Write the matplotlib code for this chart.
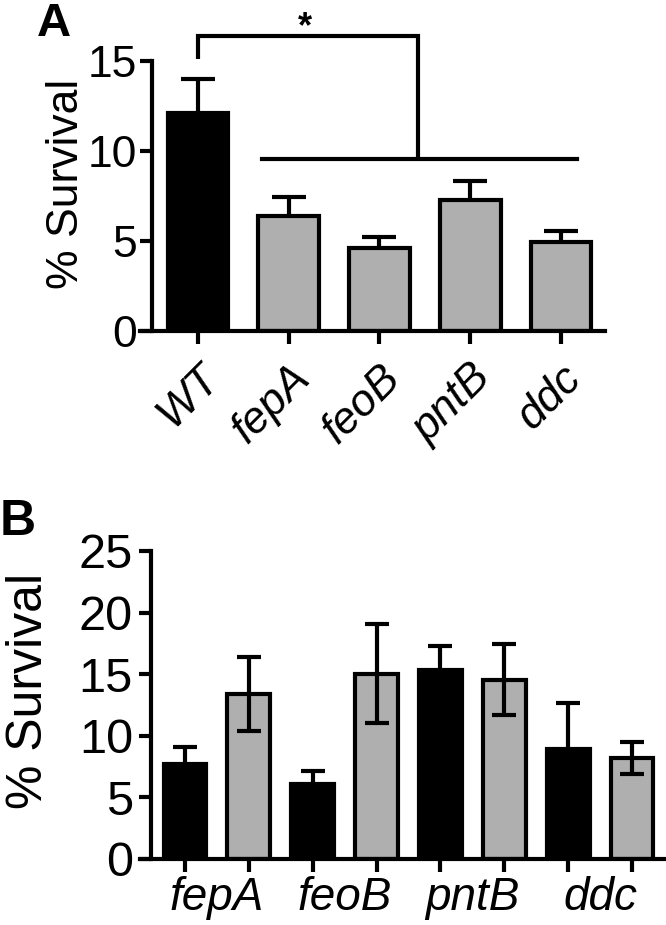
import matplotlib
matplotlib.use("Agg")
import matplotlib.pyplot as plt

plt.rcParams['font.family'] = ['Liberation Sans', 'DejaVu Sans']

# panel A data
strainsA = ["WT", "fepA", "feoB", "pntB", "ddc"]
survA = [12.1, 6.4, 4.6, 7.3, 4.95]
semA = [1.9, 1.05, 0.62, 1.03, 0.6]
colorsA = ["black", "#afafaf", "#afafaf", "#afafaf", "#afafaf"]

# panel B data (black / grey pairs per gene)
genesB = ["fepA", "feoB", "pntB", "ddc"]
survB_black = [7.7, 6.05, 15.35, 8.9]
semB_black = [1.42, 1.1, 1.95, 3.72]
survB_grey = [13.4, 15.05, 14.55, 8.2]
semB_grey = [3.0, 4.0, 2.86, 1.29]

lw = 3

fig = plt.figure(figsize=(6.66, 9.25), dpi=100)

# ---------------- panel A
ax = fig.add_axes([0.2102, 0.6422, 0.6982, 0.2919])
xa = list(range(len(strainsA)))
ax.bar(xa, survA, width=0.67, color=colorsA, edgecolor="black", linewidth=lw, zorder=2)
ax.errorbar(xa, survA, yerr=semA, fmt="none", ecolor="black", elinewidth=lw,
            capsize=12, capthick=lw, zorder=1)
ax.set_xlim(-0.639, 4.485)
ax.set_ylim(0, 15)
ax.set_yticks([0, 5, 10, 15])
ax.set_xticks(xa)
ax.set_xticklabels(strainsA, rotation=45, ha="right", rotation_mode="anchor",
                   style="italic", fontsize=32)
ax.spines["left"].set_position(("data", -0.507))
for s in ["top", "right"]:
    ax.spines[s].set_visible(False)
for s in ["left", "bottom"]:
    ax.spines[s].set_linewidth(lw)
ax.tick_params(axis="both", width=lw, length=9)
ax.tick_params(axis="y", labelsize=32, pad=1.5)
ax.tick_params(axis="x", pad=10)
ax.set_ylabel("% Survival", fontsize=32)
ax.yaxis.set_label_coords(-0.114, 0.544)

# significance bracket
ax.plot([0, 0, 2.42, 2.42], [15.1, 16.4, 16.4, 9.57], color="black", lw=lw,
        clip_on=False, solid_capstyle="butt", solid_joinstyle="miter")
ax.plot([0.71, 4.18], [9.57, 9.57], color="black", lw=lw, clip_on=False)
ax.text(1.18, 15.85, "*", fontsize=26, fontweight="bold", ha="center", va="bottom")

fig.text(37 / 666, 1 - 36 / 925, "A", fontsize=34, fontweight="bold", va="baseline")

# ---------------- panel B
bx = fig.add_axes([0.2102, 0.0714, 0.7898, 0.333])
xb_black = [2 * i for i in range(len(genesB))]
xb_grey = [2 * i + 1 for i in range(len(genesB))]
bx.bar(xb_black, survB_black, width=0.67, color="black", edgecolor="black", linewidth=lw, zorder=2)
bx.bar(xb_grey, survB_grey, width=0.67, color="#afafaf", edgecolor="black", linewidth=lw, zorder=2)
bx.errorbar(xb_black, survB_black, yerr=semB_black, fmt="none", ecolor="black",
            elinewidth=lw, capsize=8.5, capthick=lw, zorder=1)
bx.errorbar(xb_grey, survB_grey, yerr=semB_grey, fmt="none", ecolor="black",
            elinewidth=lw, capsize=8.5, capthick=lw, zorder=3)
bx.set_xlim(-0.705, 7.532)
bx.set_ylim(0, 25)
bx.set_yticks([0, 5, 10, 15, 20, 25])
bx.set_xticks(xb_black + xb_grey)
bx.set_xticklabels([])
bx.set_xticks([2 * i + 0.5 for i in range(len(genesB))], minor=True)
bx.set_xticklabels(genesB, minor=True, style="italic", fontsize=33)
bx.spines["left"].set_position(("data", -0.532))
for s in ["top", "right"]:
    bx.spines[s].set_visible(False)
for s in ["left", "bottom"]:
    bx.spines[s].set_linewidth(lw)
bx.tick_params(axis="both", which="major", width=lw, length=9)
bx.tick_params(axis="x", which="minor", length=0, pad=12)
bx.tick_params(axis="y", labelsize=35, pad=4)
bx.set_ylabel("% Survival", fontsize=36)
bx.yaxis.set_label_coords(-0.167, 0.545)

fig.text(0 / 666, 1 - 535 / 925, "B", fontsize=36, fontweight="bold", va="baseline")

fig.savefig("out.png", dpi=100)
